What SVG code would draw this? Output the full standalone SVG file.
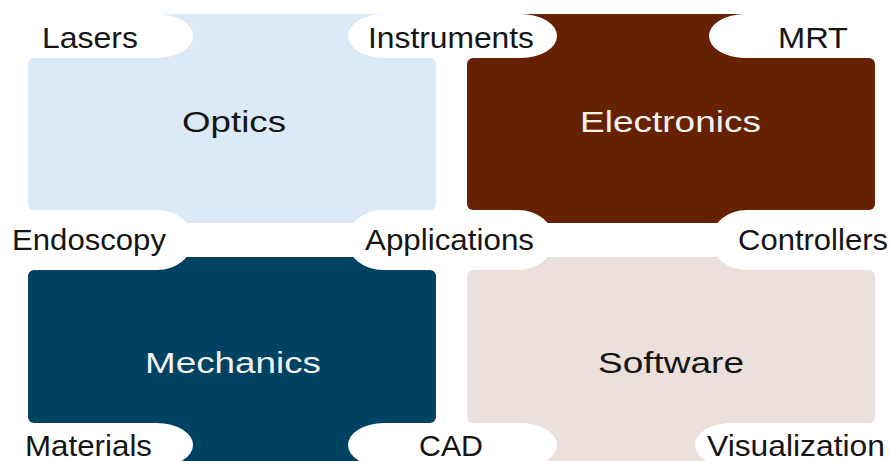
<svg xmlns="http://www.w3.org/2000/svg" width="890" height="461" viewBox="0 0 890 461">
<style>
  .bg { fill: #ffffff; }
  .optics { fill: #DCE9F6; }
  .electronics { fill: #662200; }
  .mechanics { fill: #004261; }
  .software { fill: #EBE0DB; }
  .pill { fill: #ffffff; }
  .main { font-family: "Liberation Sans", Arial, sans-serif; font-size: 30px; }
  .lbl { font-family: "Liberation Sans", Arial, sans-serif; font-size: 29px; fill: #151515; }
  .dark { fill: #151515; }
  .light { fill: #f2f2f2; }
</style>
<rect class="bg" x="0" y="0" width="890" height="461"/>

<g id="optics">
  <rect class="optics" x="28" y="58" width="408" height="152" rx="6" ry="6"/>
  <rect class="optics" x="60" y="14" width="350" height="209"/>
  <text class="main dark" x="182" y="132" textLength="104" lengthAdjust="spacingAndGlyphs">Optics</text>
</g>
<g id="electronics">
  <rect class="electronics" x="467" y="58" width="408" height="152" rx="6" ry="6"/>
  <rect class="electronics" x="500" y="14" width="350" height="209"/>
  <text class="main light" x="580" y="132" textLength="181" lengthAdjust="spacingAndGlyphs">Electronics</text>
</g>
<g id="mechanics">
  <rect class="mechanics" x="28" y="270" width="408" height="153" rx="6" ry="6"/>
  <rect class="mechanics" x="60" y="257" width="350" height="213"/>
  <text class="main light" x="145" y="373" font-size="32" textLength="176" lengthAdjust="spacingAndGlyphs">Mechanics</text>
</g>
<g id="software">
  <rect class="software" x="467" y="270" width="408" height="153" rx="6" ry="6"/>
  <rect class="software" x="500" y="257" width="350" height="213"/>
  <text class="main dark" x="598" y="373" font-size="32" textLength="146" lengthAdjust="spacingAndGlyphs">Software</text>
</g>

<g id="lasers">
  <rect class="pill" x="-40" y="14" width="233" height="44" rx="36" ry="22"/>
  <text class="lbl" x="42" y="48" textLength="96" lengthAdjust="spacingAndGlyphs">Lasers</text>
</g>
<g id="instruments">
  <rect class="pill" x="348" y="14" width="209" height="44" rx="36" ry="22"/>
  <text class="lbl" x="368" y="48" textLength="166" lengthAdjust="spacingAndGlyphs">Instruments</text>
</g>
<g id="mrt">
  <rect class="pill" x="709" y="14" width="221" height="44" rx="36" ry="22"/>
  <text class="lbl" x="778" y="48" textLength="70" lengthAdjust="spacingAndGlyphs">MRT</text>
</g>
<g id="endoscopy">
  <rect class="pill" x="-40" y="210" width="233" height="60" rx="36" ry="30"/>
  <text class="lbl" x="12" y="250" textLength="154" lengthAdjust="spacingAndGlyphs">Endoscopy</text>
</g>
<g id="applications">
  <rect class="pill" x="347" y="210" width="207" height="60" rx="36" ry="30"/>
  <text class="lbl" x="365" y="250" textLength="169" lengthAdjust="spacingAndGlyphs">Applications</text>
</g>
<g id="controllers">
  <rect class="pill" x="711" y="210" width="219" height="60" rx="36" ry="30"/>
  <text class="lbl" x="738" y="250" textLength="150" lengthAdjust="spacingAndGlyphs">Controllers</text>
</g>
<g id="materials">
  <rect class="pill" x="-40" y="423" width="233" height="44" rx="36" ry="22"/>
  <text class="lbl" x="25" y="456" textLength="127" lengthAdjust="spacingAndGlyphs">Materials</text>
</g>
<g id="cad">
  <rect class="pill" x="348" y="423" width="209" height="44" rx="36" ry="22"/>
  <text class="lbl" x="419" y="456" textLength="64" lengthAdjust="spacingAndGlyphs">CAD</text>
</g>
<g id="visualization">
  <rect class="pill" x="695" y="423" width="235" height="44" rx="36" ry="22"/>
  <text class="lbl" x="707" y="456" textLength="178" lengthAdjust="spacingAndGlyphs">Visualization</text>
</g>
<g id="connectors"/>
</svg>
